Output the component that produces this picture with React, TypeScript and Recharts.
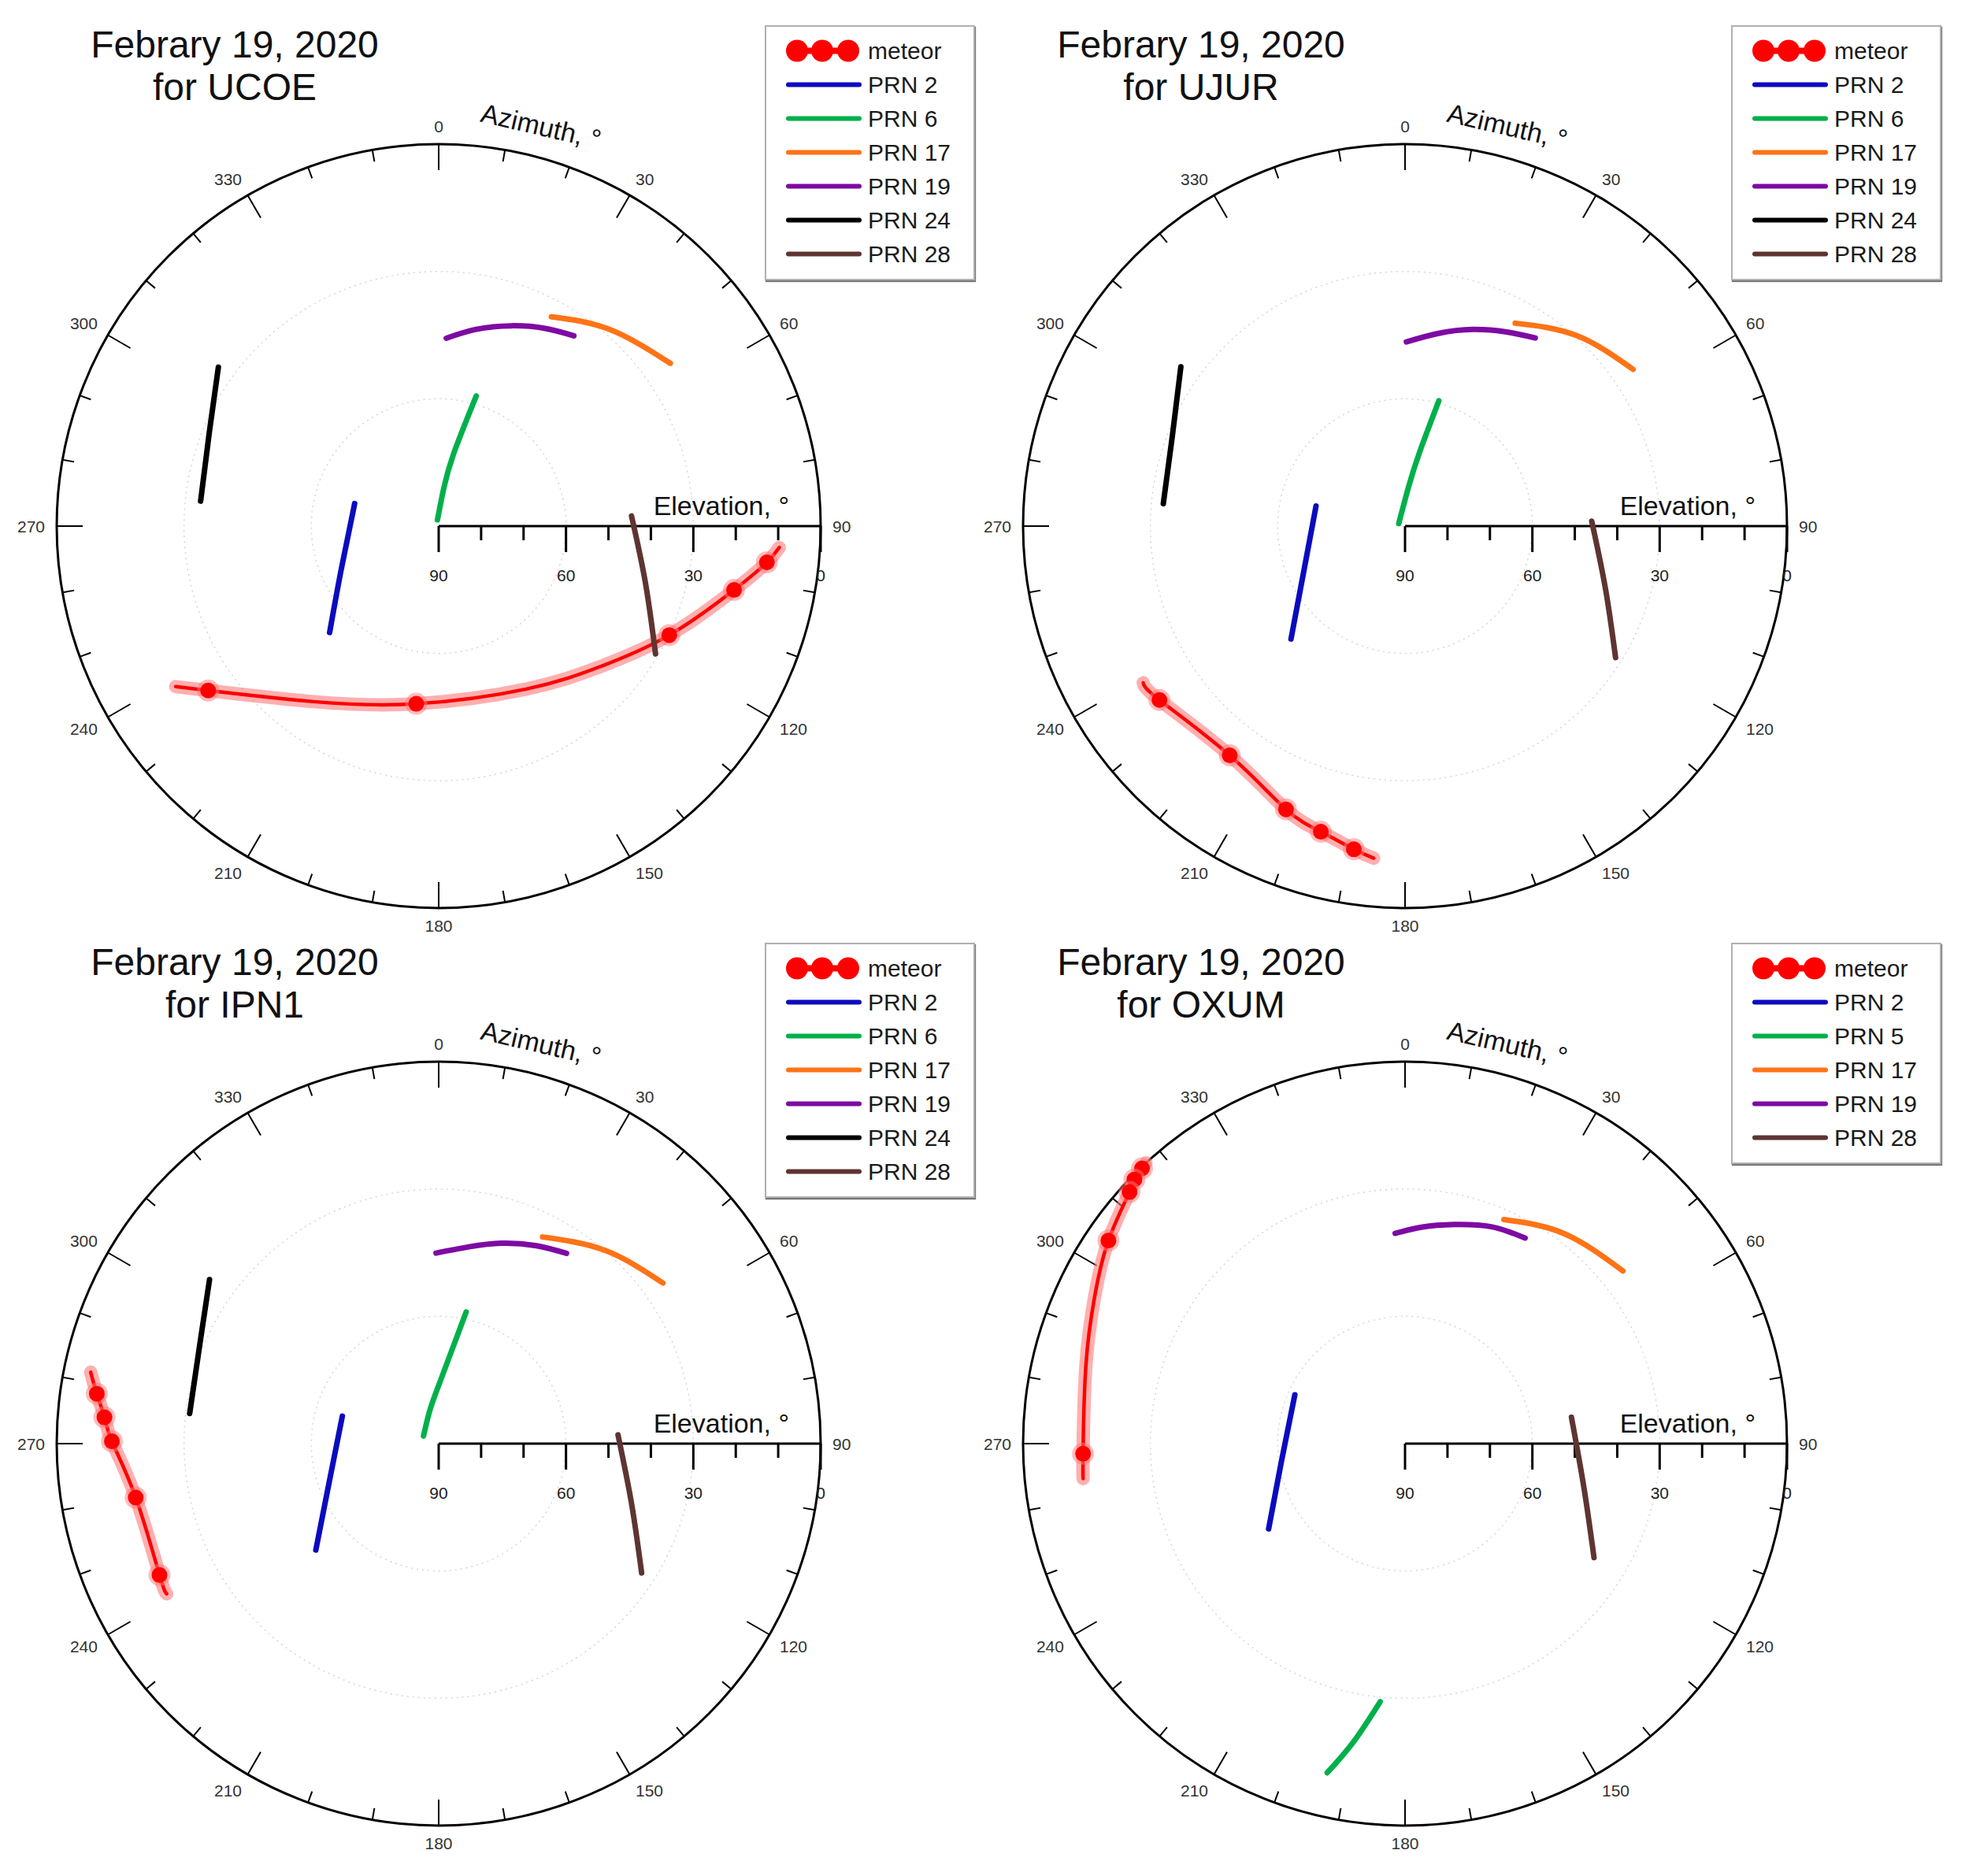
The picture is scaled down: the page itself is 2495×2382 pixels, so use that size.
import {
  Legend,
  PolarAngleAxis,
  PolarGrid,
  PolarRadiusAxis,
  Radar,
  RadarChart,
  Scatter,
  ScatterChart,
  XAxis,
  YAxis,
} from "recharts";

// [azimuth °, elevation °, 1 = marked meteor point]
type Pt = [number, number, number?];

const DATE = "Febrary 19, 2020";
const AZ_TICKS = [
  0, 10, 20, 30, 40, 50, 60, 70, 80, 90, 100, 110, 120, 130, 140, 150, 160, 170,
  180, 190, 200, 210, 220, 230, 240, 250, 260, 270, 280, 290, 300, 310, 320, 330, 340, 350,
];
// zenith distance (90 - elevation)
const EL_TICKS = [0, 10, 20, 30, 40, 50, 60, 70, 80, 90];

// UCOE
const UCOE_METEOR: Pt[] = [
  [238.6, 17.4], [234.5, 23.3, 1], [215.5, 39.2], [187.2, 47.8, 1], [151.7, 46.4],
  [130.7, 39.4], [115.3, 29.9, 1], [102.2, 18.8, 1], [96.3, 12.2, 1], [93.6, 9.6],
];
const UCOE_PRN2: Pt[] = [[285.0, 69.5], [245.8, 64.8], [225.7, 54.1]];
const UCOE_PRN6: Pt[] = [[348.7, 88.5], [7.6, 81.1], [11.7, 72.5], [16.1, 58.1]];
const UCOE_PRN17: Pt[] = [[28.3, 34.0], [41.0, 28.6], [54.9, 23.3]];
const UCOE_PRN19: Pt[] = [[2.3, 45.7], [10.8, 42.8], [19.9, 39.8], [28.3, 37.1], [35.4, 35.0]];
const UCOE_PRN24: Pt[] = [[305.8, 26.0], [292.3, 31.6], [276.0, 33.6]];
const UCOE_PRN28: Pt[] = [[87.0, 44.5], [105.3, 39.5], [120.5, 30.7]];

// UJUR
const UJUR_METEOR: Pt[] = [
  [239.1, 18.1], [234.7, 19.1, 1], [217.4, 22.0, 1], [202.8, 17.6, 1],
  [195.4, 15.3, 1], [189.0, 12.9, 1], [185.4, 11.4],
];
const UJUR_PRN2: Pt[] = [[282.7, 68.5], [245.4, 63.7], [225.3, 52.2]];
const UJUR_PRN6: Pt[] = [[291.8, 88.4], [5.4, 80.5], [11.3, 71.9], [15.1, 59.4]];
const UJUR_PRN17: Pt[] = [[28.5, 35.6], [42.0, 29.6], [55.5, 24.8]];
const UJUR_PRN19: Pt[] = [[0.4, 46.6], [9.9, 43.9], [19.0, 41.0], [27.6, 38.4], [34.7, 36.1]];
const UJUR_PRN24: Pt[] = [[305.4, 25.2], [291.2, 31.2], [275.3, 32.8]];
const UJUR_PRN28: Pt[] = [[88.5, 46.0], [107.4, 40.5], [122.0, 31.5]];

// IPN1
const IPN1_METEOR: Pt[] = [
  [281.6, 6.3], [278.3, 8.6, 1], [274.5, 11.0, 1], [270.4, 13.0, 1],
  [259.9, 17.5, 1], [244.8, 17.3, 1], [241.1, 16.8],
];
const IPN1_PRN2: Pt[] = [[285.9, 66.4], [249.4, 62.3], [229.1, 51.7]];
const IPN1_PRN6: Pt[] = [[296.6, 86.0], [345.5, 81.8], [2.2, 74.7], [11.8, 58.3]];
const IPN1_PRN17: Pt[] = [[26.7, 35.5], [40.8, 29.9], [54.4, 25.0]];
const IPN1_PRN19: Pt[] = [[359.2, 45.1], [8.7, 43.1], [17.4, 40.5], [26.3, 38.0], [33.9, 36.0]];
const IPN1_PRN24: Pt[] = [[305.6, 23.6], [292.0, 29.2], [276.9, 30.9]];
const IPN1_PRN28: Pt[] = [[87.2, 47.7], [107.3, 42.4], [122.5, 33.3]];

// OXUM
const OXUM_METEOR: Pt[] = [
  [317.3, 0.0], [316.3, 0.3, 1], [314.3, 0.9, 1], [312.4, 2.1, 1], [304.4, 5.3, 1],
  [295.3, 9.1], [283.7, 12.6], [268.2, 14.1, 1], [263.8, 13.7],
];
const OXUM_PRN2: Pt[] = [[293.9, 61.6], [261.4, 60.5], [238.0, 52.1]];
const OXUM_PRN5: Pt[] = [[193.3, 10.3], [189.8, 18.7], [185.5, 28.9]];
const OXUM_PRN17: Pt[] = [[23.8, 32.3], [37.2, 27.9], [51.6, 24.5]];
const OXUM_PRN19: Pt[] = [[357.3, 40.4], [4.6, 38.8], [12.6, 37.1], [21.7, 35.0], [30.3, 33.9]];
const OXUM_PRN28: Pt[] = [[81.0, 50.3], [103.8, 46.6], [121.1, 38.0]];

const FONT = '"Liberation Sans", Arial, Helvetica, sans-serif';
const RED = "#ff0000";
const GLOW = "#ff7a7a";
const BLUE = "#0b0bbf";
const GREEN = "#00b04a";
const ORANGE = "#ff7316";
const PURPLE = "#7e0aa3";
const BLACK = "#000000";
const BROWN = "#5e3431";

type Track = { name: string; color: string; pts: Pt[] };

const UCOE_TRACKS: Track[] = [
  { name: "meteor", color: RED, pts: UCOE_METEOR },
  { name: "PRN 2", color: BLUE, pts: UCOE_PRN2 },
  { name: "PRN 6", color: GREEN, pts: UCOE_PRN6 },
  { name: "PRN 17", color: ORANGE, pts: UCOE_PRN17 },
  { name: "PRN 19", color: PURPLE, pts: UCOE_PRN19 },
  { name: "PRN 24", color: BLACK, pts: UCOE_PRN24 },
  { name: "PRN 28", color: BROWN, pts: UCOE_PRN28 },
];
const UJUR_TRACKS: Track[] = [
  { name: "meteor", color: RED, pts: UJUR_METEOR },
  { name: "PRN 2", color: BLUE, pts: UJUR_PRN2 },
  { name: "PRN 6", color: GREEN, pts: UJUR_PRN6 },
  { name: "PRN 17", color: ORANGE, pts: UJUR_PRN17 },
  { name: "PRN 19", color: PURPLE, pts: UJUR_PRN19 },
  { name: "PRN 24", color: BLACK, pts: UJUR_PRN24 },
  { name: "PRN 28", color: BROWN, pts: UJUR_PRN28 },
];
const IPN1_TRACKS: Track[] = [
  { name: "meteor", color: RED, pts: IPN1_METEOR },
  { name: "PRN 2", color: BLUE, pts: IPN1_PRN2 },
  { name: "PRN 6", color: GREEN, pts: IPN1_PRN6 },
  { name: "PRN 17", color: ORANGE, pts: IPN1_PRN17 },
  { name: "PRN 19", color: PURPLE, pts: IPN1_PRN19 },
  { name: "PRN 24", color: BLACK, pts: IPN1_PRN24 },
  { name: "PRN 28", color: BROWN, pts: IPN1_PRN28 },
];
const OXUM_TRACKS: Track[] = [
  { name: "meteor", color: RED, pts: OXUM_METEOR },
  { name: "PRN 2", color: BLUE, pts: OXUM_PRN2 },
  { name: "PRN 5", color: GREEN, pts: OXUM_PRN5 },
  { name: "PRN 17", color: ORANGE, pts: OXUM_PRN17 },
  { name: "PRN 19", color: PURPLE, pts: OXUM_PRN19 },
  { name: "PRN 28", color: BROWN, pts: OXUM_PRN28 },
];

const PANELS = [
  { station: "UCOE", cx: 557, cy: 668, tracks: UCOE_TRACKS },
  { station: "UJUR", cx: 1784, cy: 668, tracks: UJUR_TRACKS },
  { station: "IPN1", cx: 557, cy: 1833, tracks: IPN1_TRACKS },
  { station: "OXUM", cx: 1784, cy: 1833, tracks: OXUM_TRACKS },
];

const R = 485;
const PAD = 70;
const S = 2 * R + 2 * PAD;
const C = S / 2;
const RAD = Math.PI / 180;

// sky position -> plane, north up, east right
const toXY = (pts: Pt[]) =>
  pts.map(([az, el, mark]) => ({
    x: (90 - el) * Math.sin(az * RAD),
    y: (90 - el) * Math.cos(az * RAD),
    mark: mark === 1,
  }));

function AzTick(props: any) {
  const az = Number(props.payload?.value);
  const sx = Math.sin(az * RAD);
  const cs = Math.cos(az * RAD);
  const major = az % 30 === 0;
  const len = major ? 33 : 15;
  const anchor = sx > 0.1 ? "start" : sx < -0.1 ? "end" : "middle";
  const base = cs > 0.1 ? "auto" : cs < -0.1 ? "hanging" : "central";
  const g = 15;
  return (
    <g>
      <line
        x1={C + R * sx}
        y1={C - R * cs}
        x2={C + (R - len) * sx}
        y2={C - (R - len) * cs}
        stroke="#000"
        strokeWidth={2}
      />
      {major && (
        <text
          x={C + (R + g) * sx}
          y={C - (R + g) * cs}
          textAnchor={anchor}
          dominantBaseline={base}
          fontSize={21}
          fill="#333"
          fontFamily={FONT}
        >
          {az}
        </text>
      )}
    </g>
  );
}

function ElTick(props: any) {
  const v = Number(props.payload?.value);
  const major = v % 30 === 0;
  const { x, y } = props;
  return (
    <g>
      <line x1={x} y1={y} x2={x} y2={y + (major ? 33 : 18)} stroke="#000" strokeWidth={3} />
      {major && (
        <text
          x={x}
          y={y + 62}
          textAnchor="middle"
          dominantBaseline="central"
          fontSize={21}
          fill="#222"
          fontFamily={FONT}
        >
          {90 - v}
        </text>
      )}
    </g>
  );
}

const noShape = () => <g />;
const markShape = (p: any) =>
  p.payload?.mark ? (
    <g>
      <circle cx={p.cx} cy={p.cy} r={14} fill={GLOW} fillOpacity={0.5} />
      <circle cx={p.cx} cy={p.cy} r={10} fill={RED} />
    </g>
  ) : (
    <g />
  );

function TrackLegend({ tracks }: { tracks: Track[] }) {
  return (
    <div
      style={{
        width: 267,
        boxSizing: "border-box",
        border: "2px solid #b0b0b0",
        boxShadow: "1px 2px 1px #777",
        background: "#fff",
        padding: "9px 0 10px 0",
        fontFamily: FONT,
      }}
    >
      {tracks.map((t) => (
        <div key={t.name} style={{ height: 43, display: "flex", alignItems: "center" }}>
          <svg width={129} height={43} style={{ flex: "none" }}>
            {t.name === "meteor" ? (
              <g>
                <line x1={39} x2={104} y1={21.5} y2={21.5} stroke={RED} strokeWidth={8} />
                <circle cx={39} cy={21.5} r={14} fill={RED} />
                <circle cx={71} cy={21.5} r={14} fill={RED} />
                <circle cx={104} cy={21.5} r={14} fill={RED} />
              </g>
            ) : (
              <line
                x1={28}
                x2={118}
                y1={21.5}
                y2={21.5}
                stroke={t.color}
                strokeWidth={6}
                strokeLinecap="round"
              />
            )}
          </svg>
          <span style={{ fontSize: 30, color: "#1a1a1a", lineHeight: "43px" }}>{t.name}</span>
        </div>
      ))}
    </div>
  );
}

function Panel({ station, cx, cy, tracks }: { station: string; cx: number; cy: number; tracks: Track[] }) {
  const gridData = AZ_TICKS.map((az) => ({ az, zenith: 0 }));
  return (
    <>
      <div style={{ position: "absolute", left: cx - C, top: cy - C, width: S, height: S }}>
        <div style={{ position: "absolute", left: 0, top: 0 }}>
          <RadarChart
            width={S}
            height={S}
            data={gridData}
            cx={C}
            cy={C}
            innerRadius={0}
            outerRadius={R}
            startAngle={90}
            endAngle={-270}
            margin={{ top: 0, right: 0, bottom: 0, left: 0 }}
          >
            <PolarGrid
              gridType="circle"
              radialLines={false}
              polarRadius={[R / 3, (2 * R) / 3]}
              stroke="#d6d6d6"
              strokeWidth={1.5}
              strokeDasharray="2 5"
            />
            <PolarAngleAxis
              dataKey="az"
              axisLineType="circle"
              axisLine={{ stroke: "#000", strokeWidth: 3 }}
              tickLine={false}
              tick={AzTick}
            />
            <PolarRadiusAxis
              angle={0}
              type="number"
              domain={[0, 90]}
              ticks={EL_TICKS}
              tickCount={10}
              allowDataOverflow
              axisLine={{ stroke: "#000", strokeWidth: 3 }}
              tick={ElTick}
            />
            <Radar
              dataKey="zenith"
              stroke="none"
              fill="none"
              dot={false}
              legendType="none"
              isAnimationActive={false}
            />
          </RadarChart>
        </div>
        <div style={{ position: "absolute", left: 0, top: 0 }}>
          <ScatterChart width={S} height={S} margin={{ top: PAD, right: PAD, bottom: PAD, left: PAD }}>
            <XAxis type="number" dataKey="x" domain={[-90, 90]} allowDataOverflow hide />
            <YAxis type="number" dataKey="y" domain={[-90, 90]} allowDataOverflow hide />
            {tracks.flatMap((t) => {
              const d = toXY(t.pts);
              if (t.name === "meteor") {
                return [
                  <Scatter
                    key="glow"
                    data={d}
                    fill={GLOW}
                    line={{
                      stroke: GLOW,
                      strokeWidth: 17,
                      strokeOpacity: 0.6,
                      strokeLinecap: "round",
                      strokeLinejoin: "round",
                    }}
                    lineJointType="natural"
                    shape={noShape}
                    legendType="none"
                    isAnimationActive={false}
                  />,
                  <Scatter
                    key="meteor"
                    name="meteor"
                    data={d}
                    fill={RED}
                    line={{ stroke: RED, strokeWidth: 4.5, strokeLinecap: "round" }}
                    lineJointType="natural"
                    shape={markShape}
                    isAnimationActive={false}
                  />,
                ];
              }
              return [
                <Scatter
                  key={t.name}
                  name={t.name}
                  data={d}
                  fill={t.color}
                  line={{ stroke: t.color, strokeWidth: 7, strokeLinecap: "round" }}
                  lineJointType="natural"
                  shape={noShape}
                  isAnimationActive={false}
                />,
              ];
            })}
            <Legend
              layout="vertical"
              align="center"
              verticalAlign="middle"
              wrapperStyle={{ left: C + 414, top: C - 636, width: 267 }}
              content={() => <TrackLegend tracks={tracks} />}
            />
          </ScatterChart>
        </div>
      </div>
      <div
        style={{
          position: "absolute",
          left: cx - 259 - 300,
          top: cy - 638,
          width: 600,
          textAlign: "center",
          fontFamily: FONT,
          fontSize: 48,
          lineHeight: "54px",
          color: "#111",
        }}
      >
        {DATE}
        <br />
        for {station}
      </div>
      <div
        style={{
          position: "absolute",
          left: cx + 130 - 150,
          top: cy - 508 - 20,
          width: 300,
          height: 40,
          lineHeight: "40px",
          textAlign: "center",
          fontFamily: FONT,
          fontSize: 34,
          color: "#111",
          transform: "rotate(13deg)",
        }}
      >
        Azimuth, °
      </div>
      <div
        style={{
          position: "absolute",
          left: cx + 445 - 300,
          top: cy - 14 - 29,
          width: 300,
          textAlign: "right",
          fontFamily: FONT,
          fontSize: 34,
          lineHeight: "34px",
          color: "#111",
        }}
      >
        Elevation, °
      </div>
    </>
  );
}

export default function App() {
  return (
    <div
      style={{
        position: "absolute",
        left: 0,
        top: 0,
        width: 2495,
        height: 2382,
        background: "#fff",
        overflow: "hidden",
      }}
    >
      {PANELS.map((p) => (
        <Panel key={p.station} {...p} />
      ))}
    </div>
  );
}
